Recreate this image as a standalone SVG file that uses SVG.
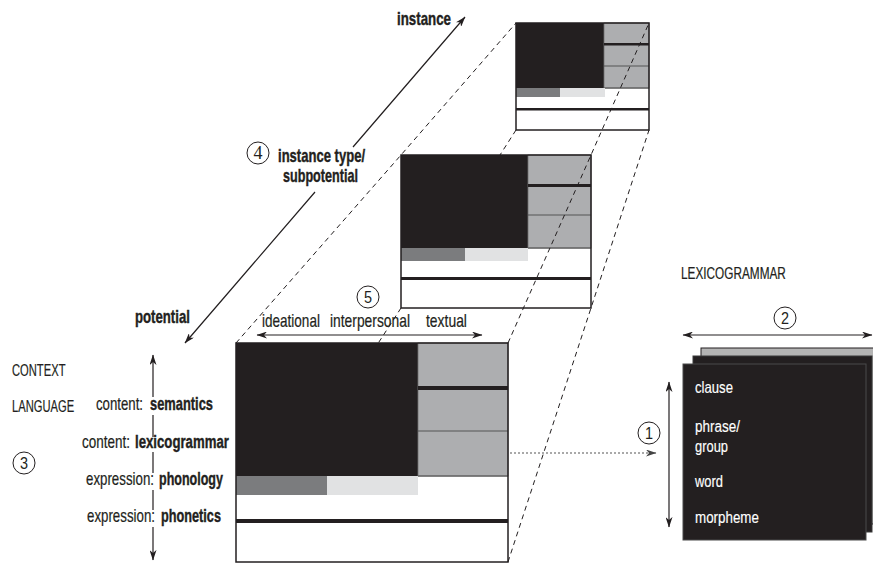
<svg xmlns="http://www.w3.org/2000/svg" width="873" height="563" viewBox="0 0 873 563">
<style>
.t{font-family:"Liberation Sans",Arial,sans-serif;font-size:17.5px;fill:#231f20;stroke:#231f20;stroke-width:0.2}
.c{font-size:16px}
.b{font-weight:bold;font-size:18px;stroke-width:0.4}
.w{fill:#ffffff;stroke:#ffffff;stroke-width:0.15;font-size:16.5px}
.blk{fill:#231f20}
.gry{fill:#adaeb0;stroke:#707070;stroke-width:0.8}
.dk{fill:#7b7c7e}
.lt{fill:#e1e2e3}
.frame{fill:none;stroke:#231f20;stroke-width:1.5}
.sep{stroke:#555;stroke-width:1.2}
.row{stroke:#6a6a6a;stroke-width:1.5}
.arr{fill:none;stroke:#231f20;stroke-width:1.2}
.dash{fill:none;stroke:#231f20;stroke-width:1;stroke-dasharray:5 4}
.dot{fill:none;stroke:#555;stroke-width:1.2;stroke-dasharray:2 2}
.circ{fill:none;stroke:#231f20;stroke-width:1}
.num{font-family:"Liberation Sans",Arial,sans-serif;font-size:17px;fill:#231f20;text-anchor:middle}
.sn{font-family:"Liberation Serif","Times New Roman",serif;font-size:18px}
</style>
<defs>
<marker id="ah" viewBox="0 0 12 8" refX="11.5" refY="4" markerWidth="11" markerHeight="7" markerUnits="userSpaceOnUse" orient="auto-start-reverse">
<path d="M0,0 L12,4 L0,8 L3.5,4 z" fill="#231f20"/>
</marker>
<marker id="ahg" viewBox="0 0 12 8" refX="11.5" refY="4" markerWidth="11" markerHeight="7" markerUnits="userSpaceOnUse" orient="auto">
<path d="M0,0 L12,4 L0,8 L3.5,4 z" fill="#444"/>
</marker>
</defs>
<rect width="873" height="563" fill="#ffffff"/>

<!-- front panel: potential -->
<g id="panel-potential">
<rect x="236" y="343" width="272" height="219" fill="#ffffff"/>
<rect class="blk" x="236" y="343" width="182" height="133"/>
<rect class="gry" x="418" y="343" width="90" height="133"/>
<rect class="blk" x="418" y="386" width="90" height="4"/>
<line class="sep" x1="418" y1="431" x2="508" y2="431"/>
<line class="row" x1="418" y1="476" x2="508" y2="476"/>
<rect class="dk" x="236" y="476" width="91" height="19"/>
<rect class="lt" x="327" y="476" width="91" height="19"/>
<rect class="blk" x="236" y="519" width="272" height="4"/>
<rect class="frame" x="236" y="343" width="272" height="219"/>
</g>

<!-- middle panel: instance type -->
<g id="panel-instance-type">
<rect x="401" y="155" width="190" height="153" fill="#ffffff"/>
<rect class="blk" x="401" y="155" width="127" height="93"/>
<rect class="gry" x="528" y="155" width="63" height="93"/>
<rect class="blk" x="528" y="184" width="63" height="3"/>
<line class="sep" x1="528" y1="215" x2="591" y2="215"/>
<line class="row" x1="528" y1="248" x2="591" y2="248"/>
<rect class="dk" x="401" y="248" width="64" height="13"/>
<rect class="lt" x="465" y="248" width="63" height="13"/>
<rect class="blk" x="401" y="277" width="190" height="3"/>
<rect class="frame" x="401" y="155" width="190" height="153"/>
</g>

<!-- top panel: instance -->
<g id="panel-instance">
<rect x="516" y="23" width="133" height="107" fill="#ffffff"/>
<rect class="blk" x="516" y="23" width="88" height="65"/>
<rect class="gry" x="604" y="23" width="45" height="65"/>
<rect class="blk" x="604" y="43" width="45" height="2.5"/>
<line class="sep" x1="604" y1="66" x2="649" y2="66"/>
<line class="row" x1="604" y1="88" x2="649" y2="88"/>
<rect class="dk" x="516" y="88" width="44" height="9"/>
<rect class="lt" x="560" y="88" width="45" height="9"/>
<rect class="blk" x="516" y="108" width="133" height="2.5"/>
<rect class="frame" x="516" y="23" width="133" height="107"/>
</g>

<!-- lexicogrammar stack -->
<g id="lexicogrammar-stack">
<rect x="701" y="348" width="190" height="176" fill="#b4b4b4" stroke="#231f20" stroke-width="1"/>
<rect x="693" y="356" width="179" height="176" fill="#231f20" stroke="#3a3a3a" stroke-width="1"/>
<rect x="683" y="364" width="183" height="176" fill="#231f20" stroke="#4a4a4a" stroke-width="1"/>
<text class="t w" transform="matrix(0.797 0 0 1 695 393)">clause</text>
<text class="t w" transform="matrix(0.818 0 0 1 695 432)">phrase/</text>
<text class="t w" transform="matrix(0.782 0 0 1 695 452)">group</text>
<text class="t w" transform="matrix(0.783 0 0 1 695 487)">word</text>
<text class="t w" transform="matrix(0.811 0 0 1 695 523)">morpheme</text>
</g>

<!-- connectors -->
<g id="connectors">
<polyline class="dash" points="236,343 401,155 516,23"/>
<line class="dash" x1="516" y1="130" x2="500" y2="155"/>
<line class="dash" x1="401" y1="308" x2="378.3" y2="343"/>
<polyline class="dash" points="508,343 591,155 649,23"/>
<polyline class="dash" points="508,562 591,308 649,130"/>
<path class="arr" d="M185,343 L315,192 M353,147 L465,17" marker-start="url(#ah)" marker-end="url(#ah)"/>
<line class="arr" x1="257" y1="335" x2="482" y2="335" marker-start="url(#ah)" marker-end="url(#ah)"/>
<path class="arr" d="M153,355 V397 M153,415 V437 M153,452 V473 M153,490 V510 M153,527 V560" marker-start="url(#ah)" marker-end="url(#ah)"/>
<line class="arr" x1="683" y1="335" x2="872" y2="335" marker-start="url(#ah)" marker-end="url(#ah)"/>
<line class="arr" x1="669" y1="382" x2="669" y2="527" marker-start="url(#ah)" marker-end="url(#ah)"/>
<line class="dot" x1="510" y1="453" x2="656" y2="453" marker-end="url(#ahg)"/>
</g>

<!-- labels -->
<g id="labels">
<text class="t b" transform="matrix(0.740 0 0 1 397 25)">instance</text>
<text class="t b" transform="matrix(0.733 0 0 1 135 323)">potential</text>
<text class="t b" transform="matrix(0.725 0 0 1 278 162)">instance type/</text>
<text class="t b" transform="matrix(0.701 0 0 1 283 182)">subpotential</text>
<text class="t" transform="matrix(0.774 0 0 1 262 327)">ideational</text>
<text class="t" transform="matrix(0.791 0 0 1 330 327)">interpersonal</text>
<text class="t" transform="matrix(0.795 0 0 1 426 327)">textual</text>
<text class="t c" transform="matrix(0.70 0 0 1 12 376)">CONTEXT</text>
<text class="t c" transform="matrix(0.70 0 0 1 12 412)">LANGUAGE</text>
<text class="t" transform="matrix(0.755 0 0 1 96 410)">content:</text>
<text class="t b" transform="matrix(0.716 0 0 1 150 410)">semantics</text>
<text class="t" transform="matrix(0.771 0 0 1 82 448)">content:</text>
<text class="t b" transform="matrix(0.734 0 0 1 135 448)">lexicogrammar</text>
<text class="t" transform="matrix(0.760 0 0 1 86 485)">expression:</text>
<text class="t b" transform="matrix(0.696 0 0 1 159 485)">phonology</text>
<text class="t" transform="matrix(0.760 0 0 1 87 522)">expression:</text>
<text class="t b" transform="matrix(0.706 0 0 1 161 522)">phonetics</text>
<text class="t c" transform="matrix(0.738 0 0 1 681 279)">LEXICOGRAMMAR</text>
</g>

<!-- circled numbers -->
<g id="num-1"><circle class="circ" cx="649" cy="433" r="11"/><text class="num" transform="matrix(0.85 0 0 1 649 439)">1</text></g>
<g id="num-2"><circle class="circ" cx="785" cy="318" r="11"/><text class="num" transform="matrix(0.85 0 0 1 785 324)">2</text></g>
<g id="num-3"><circle class="circ" cx="24" cy="463" r="11"/><text class="num" transform="matrix(0.85 0 0 1 24 469)">3</text></g>
<g id="num-4"><circle class="circ" cx="258" cy="153" r="11"/><text class="num sn" x="258" y="159">4</text></g>
<g id="num-5"><circle class="circ" cx="368" cy="297" r="11"/><text class="num" transform="matrix(0.85 0 0 1 368 303)">5</text></g>
</svg>
